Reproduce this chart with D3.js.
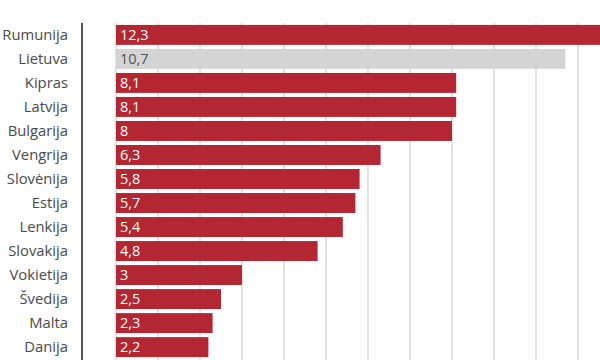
<!DOCTYPE html>
<html><head><meta charset="utf-8">
<script src="https://cdn.jsdelivr.net/npm/d3@7"></script>
<style>html,body{margin:0;padding:0;background:#fff;overflow:hidden}</style>
</head><body>
<svg id="c" width="600" height="360"></svg>
<script>
const categories = ["Rumunija","Lietuva","Kipras","Latvija","Bulgarija","Vengrija","Slovėnija","Estija","Lenkija","Slovakija","Vokietija","Švedija","Malta","Danija"];
const values = [12.3,10.7,8.1,8.1,8,6.3,5.8,5.7,5.4,4.8,3,2.5,2.3,2.2];
const highlight = ["Lietuva"];
const gridTicks = [0,1,2,3,4,5,6,7,8,9,10,11];

const svg = d3.select("#c");
const x = d3.scaleLinear().domain([0,11]).range([116,578]);
const y = d3.scaleBand().domain(categories).range([23,359]).paddingInner(0.17).paddingOuter(0.08);

svg.append("g").selectAll("line").data(gridTicks).join("line")
  .attr("x1",d=>x(d)).attr("x2",d=>x(d)).attr("y1",23).attr("y2",360)
  .attr("stroke","#cfcfcf").attr("stroke-width",1.2);

svg.append("line").attr("x1",82).attr("x2",82).attr("y1",23).attr("y2",360)
  .attr("stroke","#555").attr("stroke-width",2);

const data = categories.map((c,i)=>({c, v: values[i]}));

svg.append("g").selectAll("rect").data(data).join("rect")
  .attr("x",x(0)).attr("y",d=>y(d.c)).attr("height",y.bandwidth())
  .attr("width",d=>x(d.v)-x(0))
  .attr("fill",d=>highlight.includes(d.c)?"#d4d4d4":"#b32632");

svg.append("g").selectAll("text").data(data).join("text")
  .attr("x",x(0)+4).attr("y",d=>y(d.c)+y.bandwidth()/2).attr("dy","0.36em")
  .attr("font-family","Open Sans").attr("font-size",14.5)
  .attr("fill",d=>highlight.includes(d.c)?"#555":"#fff")
  .text(d=>String(d.v).replace(".",","));

svg.append("g").selectAll("text").data(data).join("text")
  .attr("x",68).attr("y",d=>y(d.c)+y.bandwidth()/2).attr("dy","0.36em")
  .attr("text-anchor","end")
  .attr("font-family","Open Sans").attr("font-size",14.8).attr("fill","#4a4a4a")
  .text(d=>d.c);
</script>
</body></html>
